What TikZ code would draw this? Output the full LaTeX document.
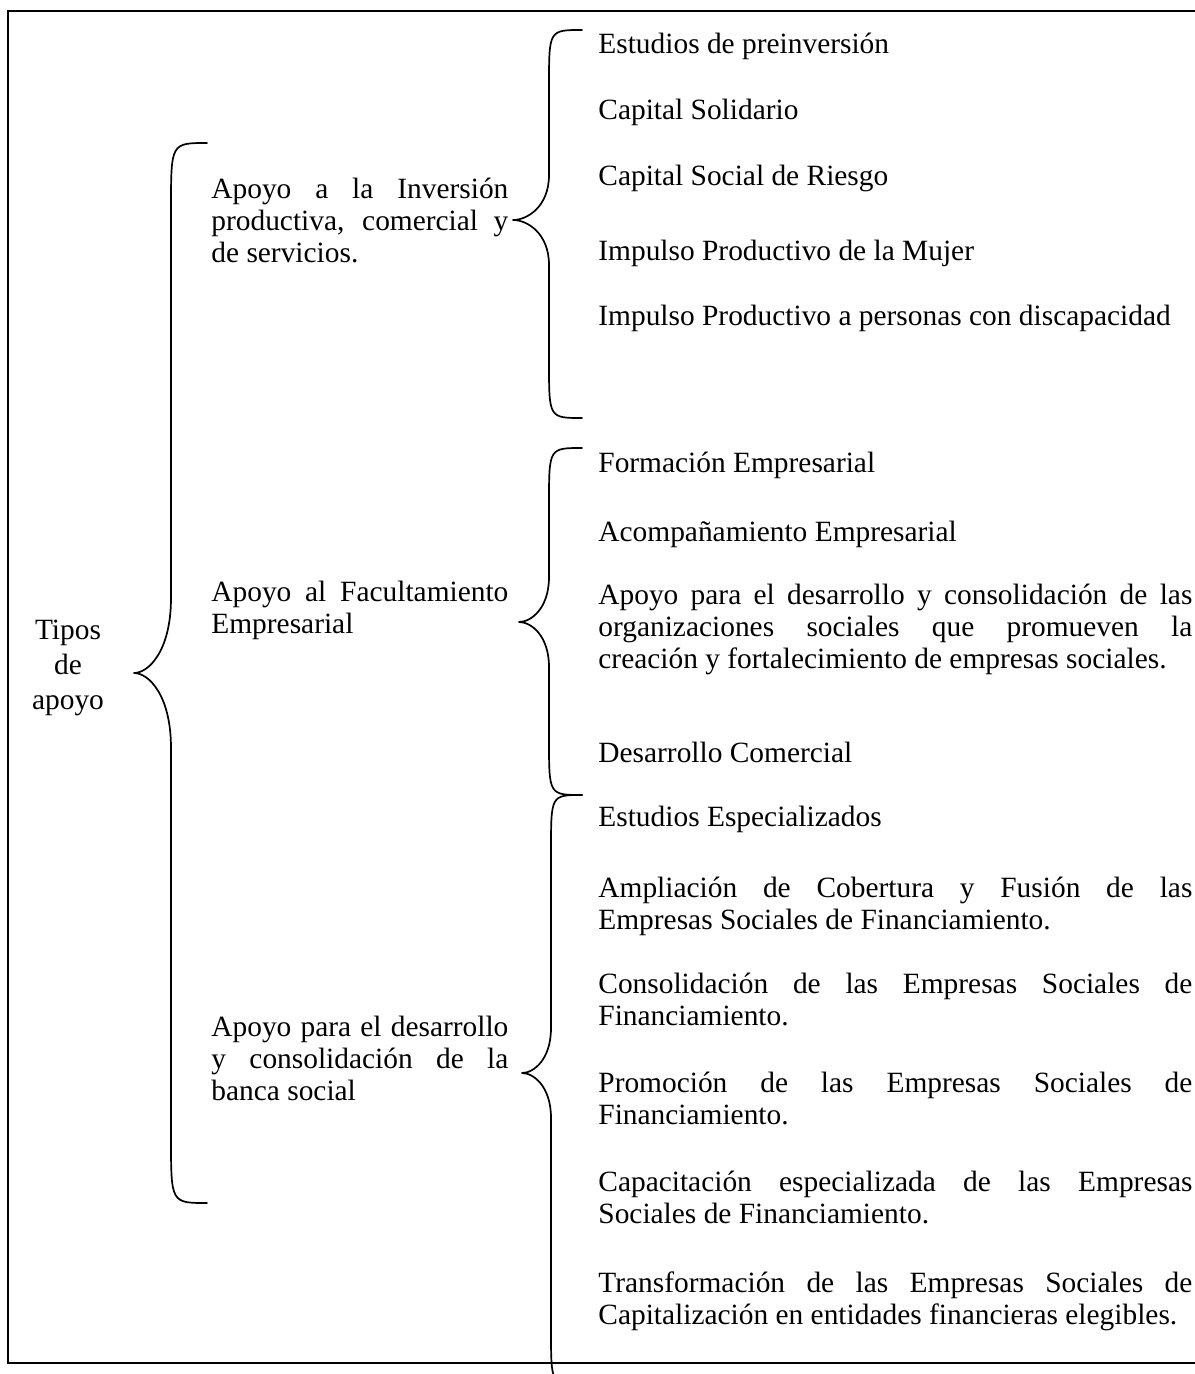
\documentclass[tikz,border=0pt]{standalone}
\usepackage{fontspec}
\setmainfont{Liberation Serif}
\newcommand{\itemfont}{\fontsize{14.7}{16}\selectfont\tolerance=10000 \hyphenpenalty=10000 }
\newcommand{\rootfont}{\fontsize{14.7}{17.5}\selectfont}
\tikzset{
  frame-line/.style={line width=1.1pt},
  brace-line/.style={line width=0.85pt, line cap=round, line join=round},
  item-text/.style={anchor=base west, inner sep=0pt, text width=297pt, align=justify, font=\itemfont},
  group-text/.style={anchor=base west, inner sep=0pt, text width=148.5pt, align=justify, font=\itemfont},
  root-text/.style={anchor=base, inner sep=0pt, text width=50pt, align=center, font=\rootfont}
}
% left curly brace: end x, top y, spine x, tip x, tip y, bottom y, end bend, tip bend
\newcommand{\typebrace}[8]{
  \draw[brace-line] (#1,#2) .. controls (#3,#2) .. (#3,{#2+#7})
    -- (#3,{#5-#8}) .. controls (#3,{#5-0.3*#8}) and ({#4+0.4*(#3-#4)},#5) .. (#4,#5)
    .. controls ({#4+0.4*(#3-#4)},#5) and (#3,{#5+0.3*#8}) .. (#3,{#5+#8})
    -- (#3,{#6-#7}) .. controls (#3,#6) .. (#1,#6);
}

\begin{document}
\begin{tikzpicture}[x=0.5pt, y=-0.5pt]
  \useasboundingbox (0,0) rectangle (1194,1374);

  % Outer frame (right side runs off the page)
  \draw[frame-line] (1210,11) -- (8,11) -- (8,1363) -- (1210,1363);

  % Root
  \node[root-text] (tipos) at (68,639) {Tipos\\de\\apoyo};

  % Second level
  \node[group-text] (inversion) at (211,199)
    {Apoyo a la Inversión\linebreak productiva, comercial y\linebreak de servicios.};
  \node[group-text] (facultamiento) at (211,601)
    {Apoyo al Facultamiento\linebreak Empresarial};
  \node[group-text] (banca) at (211,1036)
    {Apoyo para el desarrollo\linebreak y consolidación de la\linebreak banca social};

  % Third level: inversion
  \node[item-text] (preinversion) at (598,54) {Estudios de preinversión};
  \node[item-text] (solidario) at (598,120) {Capital Solidario};
  \node[item-text] (riesgo) at (598,186) {Capital Social de Riesgo};
  \node[item-text] (mujer) at (598,261) {Impulso Productivo de la Mujer};
  \node[item-text] (discapacidad) at (598,326) {Impulso Productivo a personas con discapacidad};

  % Third level: facultamiento
  \node[item-text] (formacion) at (598,472) {Formación Empresarial};
  \node[item-text] (acompanamiento) at (598,541) {Acompañamiento Empresarial};
  \node[item-text] (organizaciones) at (598,604)
    {Apoyo para el desarrollo y consolidación de las\linebreak organizaciones sociales que promueven la\linebreak creación y fortalecimiento de empresas sociales.};
  \node[item-text] (comercial) at (598,762) {Desarrollo Comercial};

  % Third level: banca social
  \node[item-text] (especializados) at (598,826) {Estudios Especializados};
  \node[item-text] (ampliacion) at (598,897)
    {Ampliación de Cobertura y Fusión de las\linebreak Empresas Sociales de Financiamiento.};
  \node[item-text] (consolidacion) at (598,993)
    {Consolidación de las Empresas Sociales de\linebreak Financiamiento.};
  \node[item-text] (promocion) at (598,1092)
    {Promoción de las Empresas Sociales de\linebreak Financiamiento.};
  \node[item-text] (capacitacion) at (598,1191)
    {Capacitación especializada de las Empresas\linebreak Sociales de Financiamiento.};
  \node[item-text] (transformacion) at (598,1292)
    {Transformación de las Empresas Sociales de\linebreak Capitalización en entidades financieras elegibles.};

  % Braces
  \typebrace{207}{143}{171}{134}{673}{1203}{65}{75}
  \typebrace{582}{30}{549}{513}{220}{418}{55}{45}
  \typebrace{582}{448}{549}{519}{622}{795}{55}{45}
  \typebrace{582}{795}{551}{522}{1073}{1385}{55}{45}

\end{tikzpicture}
\end{document}
